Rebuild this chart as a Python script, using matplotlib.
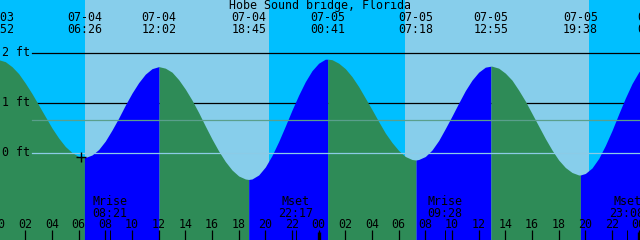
import numpy as np
import matplotlib
matplotlib.use("Agg")
import matplotlib.pyplot as plt
import matplotlib.transforms as mtransforms

# ---------------- data ----------------
title = "Hobe Sound bridge, Florida"

# half-hourly tide height readings (ft), hours from 07-04 00:00
hours = [i * 0.5 for i in range(98)]
heights = [1.86, 1.82, 1.72, 1.58, 1.39, 1.18, 0.95, 0.72, 0.49, 0.29,
           0.12, 0.00, -0.08, -0.10, -0.05, 0.06, 0.23, 0.45, 0.69, 0.95,
           1.19, 1.40, 1.57, 1.68, 1.72, 1.69, 1.61, 1.46, 1.27, 1.05,
           0.80, 0.53, 0.27, 0.03, -0.18, -0.35, -0.47, -0.53, -0.53, -0.45,
           -0.29, -0.06, 0.22, 0.53, 0.85, 1.15, 1.42, 1.64, 1.79, 1.87,
           1.86, 1.79, 1.68, 1.52, 1.32, 1.09, 0.86, 0.62, 0.39, 0.20,
           0.04, -0.08, -0.14, -0.14, -0.08, 0.05, 0.24, 0.48, 0.73, 0.99,
           1.24, 1.45, 1.61, 1.71, 1.73, 1.69, 1.59, 1.45, 1.25, 1.03,
           0.78, 0.53, 0.28, 0.05, -0.15, -0.30, -0.40, -0.45, -0.42, -0.31,
           -0.12, 0.14, 0.44, 0.77, 1.09, 1.38, 1.61, 1.78]

# high / low tide events
event_hours = [-0.13, 6.43, 12.03, 18.75, 24.68, 31.30, 36.92, 43.63, 49.20]
event_heights = [1.86, -0.10, 1.72, -0.54, 1.87, -0.15, 1.73, -0.45, 1.87]
event_dates = ['07-03', '07-04', '07-04', '07-04', '07-05', '07-05', '07-05', '07-05', '07-06']
event_times = ['23:52', '06:26', '12:02', '18:45', '00:41', '07:18', '12:55', '19:38', '01:12']

# sun: night intervals (hours)
night_start = [-1.0, 20.28, 44.28]
night_end = [6.47, 30.45, 49.0]

# moon events
moon_hours = [8.35, 22.28, 33.47, 47.13]
moon_names = ['Mrise', 'Mset', 'Mrise', 'Mset']
moon_times = ['08:21', '22:17', '09:28', '23:08']

# axis labels
tick_hours = list(range(0, 49, 2))
tick_labels = ['%02d' % (h % 24) for h in tick_hours]
midnight_hours = [24, 48]
level_values = [2, 1, 0]
level_labels = ['2 ft', '1 ft', '0 ft']
mean_level = 0.65
mark_hour, mark_height = 6.18, -0.09

# ---------------- style ----------------
SKY_DAY = '#87CEEB'
SKY_NIGHT = '#00BFFF'
RISE = '#0000FF'
FALL = '#2E8B57'
FONT = 'DejaVu Sans Mono'
FS = 8.4

XMIN, XMAX = 0.10, 48.10
YMIN, YMAX = -1.753, 3.056

fig = plt.figure(figsize=(6.4, 2.4), dpi=100)
ax = fig.add_axes([0, 0, 1, 1])
ax.set_xlim(XMIN, XMAX)
ax.set_ylim(YMIN, YMAX)
ax.axis('off')

# sky
ax.axvspan(XMIN - 2, XMAX + 2, color=SKY_DAY, lw=0, zorder=0)
for s, e in zip(night_start, night_end):
    ax.axvspan(s, e, color=SKY_NIGHT, lw=0, zorder=0.5)

# black level lines (behind water)
for v in level_values:
    if v != 0:
        ax.axhline(v, xmin=32 / 640, xmax=1, color='black', lw=0.9, zorder=1)

# water
t = np.array(hours + event_hours, dtype=float)
h = np.array(heights + event_heights, dtype=float)
order = np.argsort(t)
t, h = t[order], h[order]
for i in range(len(event_hours) - 1):
    t1, t2 = event_hours[i], event_hours[i + 1]
    m = (t >= t1) & (t <= t2)
    col = RISE if event_heights[i + 1] > event_heights[i] else FALL
    ax.fill_between(t[m], h[m], YMIN - 1, color=col, lw=0, antialiased=False, zorder=2)

# light lines on top
ax.axhline(0, xmin=32 / 640, xmax=1, color='#8ccbe6', lw=0.9, zorder=3)
ax.axhline(mean_level, xmin=32 / 640, xmax=1, color='#5a9f8c', lw=0.9, zorder=3)

# level labels
lt = mtransforms.blended_transform_factory(ax.transAxes, ax.transData)
for v, lab in zip(level_values, level_labels):
    ax.text(0.003, v, lab, transform=lt, ha='left', va='center', fontsize=FS,
            family=FONT, color='black', zorder=5)

# mark
ax.plot([mark_hour], [mark_height], marker='+', color='black', ms=7, mew=1.0, zorder=5)

# top labels
bt = mtransforms.blended_transform_factory(ax.transData, ax.transAxes)
ax.text(0.5, 0.975, title, transform=ax.transAxes, ha='center', va='center',
        fontsize=FS, family=FONT, zorder=5)
for eh, d, tm in zip(event_hours, event_dates, event_times):
    ax.text(eh, 0.927, d, transform=bt, ha='center', va='center', fontsize=FS,
            family=FONT, zorder=5, clip_on=True)
    ax.text(eh, 0.877, tm, transform=bt, ha='center', va='center', fontsize=FS,
            family=FONT, zorder=5, clip_on=True)

# bottom ticks and labels
for th, lab in zip(tick_hours, tick_labels):
    ax.plot([th, th], [0, 10 / 240], color='black', lw=0.9, transform=bt, zorder=5,
            solid_capstyle='butt')
    ax.text(th, 0.0625, lab, transform=bt, ha='center', va='center', fontsize=FS,
            family=FONT, zorder=5, clip_on=True)
for mh in midnight_hours:
    ax.plot([mh, mh], [0, 8 / 240], color='black', lw=2.4, transform=bt, zorder=5,
            solid_capstyle='butt')

# moon
for mh, n, tm in zip(moon_hours, moon_names, moon_times):
    ax.plot([mh, mh], [0, 10 / 240], color='black', lw=0.7, transform=bt, zorder=5,
            solid_capstyle='butt')
    ax.text(mh, 0.160, n, transform=bt, ha='center', va='center', fontsize=FS,
            family=FONT, zorder=5, clip_on=True)
    ax.text(mh, 0.111, tm, transform=bt, ha='center', va='center', fontsize=FS,
            family=FONT, zorder=5, clip_on=True)

fig.savefig('out.png', dpi=100)
